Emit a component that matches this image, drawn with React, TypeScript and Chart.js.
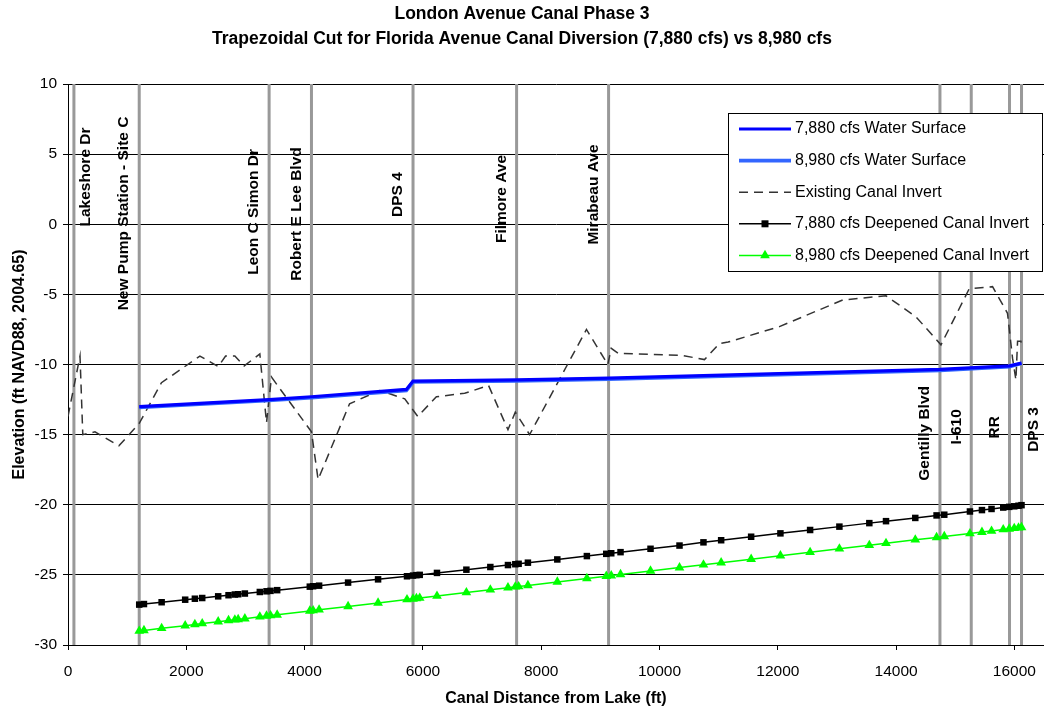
import React, { useEffect, useRef } from "react";
import { Chart, registerables } from "chart.js";

Chart.register(...registerables);

const FONT = '"Liberation Sans", Arial, sans-serif';

const TITLE_LINES = [
  "London Avenue Canal Phase 3",
  "Trapezoidal Cut for Florida Avenue Canal Diversion (7,880 cfs) vs 8,980 cfs",
];
const X_TITLE = "Canal Distance from Lake (ft)";
const Y_TITLE = "Elevation (ft NAVD88, 2004.65)";
const X_TICKS = [0, 2000, 4000, 6000, 8000, 10000, 12000, 14000, 16000];
const Y_TICKS = [-30, -25, -20, -15, -10, -5, 0, 5, 10];

// Landmarks (vertical reference lines)
const landmarkNames = [
  "Lakeshore Dr",
  "New Pump Station - Site C",
  "Leon C Simon Dr",
  "Robert E Lee Blvd",
  "DPS 4",
  "Filmore Ave",
  "Mirabeau Ave",
  "Gentilly Blvd",
  "I-610",
  "RR",
  "DPS 3",
];
const landmarkX = [100, 1204, 3400, 4116, 5833, 7584, 9139, 14741, 15270, 15917, 16120];
const landmarkLabelY = [3.37, 0.77, 0.88, 0.73, 2.12, 1.8, 2.12, -14.91, -14.45, -14.48, -14.63];
const landmarkLabelSide = [1, -1, -1, -1, -1, -1, -1, -1, -1, -1, 1];

// Water surfaces
const wsX = [1204, 3400, 4116, 5720, 5833, 7584, 9139, 14741, 15917, 16120];
const ws7880 = [-13.0, -12.5, -12.3, -11.78, -11.18, -11.1, -10.97, -10.35, -10.1, -9.9];
const ws8980 = [-13.07, -12.57, -12.37, -11.85, -11.25, -11.17, -11.04, -10.42, -10.16, -9.92];

// Existing canal invert
const existingX = [
  0, 203, 250, 456, 860, 1204, 1580, 2230, 2539, 2664, 2821, 2978, 3243, 3356, 3440, 4116,
  4228, 4760, 5270, 5693, 5912, 6228, 6706, 7110, 7438, 7562, 7804, 8765, 9125, 9184, 9300,
  10380, 10760, 11013, 11160, 12027, 13097, 13829, 14336, 14758, 15236, 15630, 15883, 15968,
  16025, 16053, 16110, 16120,
];
const existingY = [
  -13.7, -9.4, -15.0, -14.8, -15.8, -14.2, -11.3, -9.4, -10.15, -9.4, -9.4, -10.1, -9.25,
  -14.15, -10.9, -14.8, -18.2, -12.8, -11.85, -12.45, -13.7, -12.3, -12.05, -11.5, -14.65,
  -13.4, -15.0, -7.5, -10.0, -8.85, -9.2, -9.35, -9.65, -8.5, -8.4, -7.3, -5.4, -5.1, -6.6,
  -8.6, -4.6, -4.45, -6.35, -9.55, -11.1, -8.35, -8.35, -8.6,
];

// Deepened canal inverts
const deepX = [
  1204, 1284, 1583, 1981, 2145, 2269, 2539, 2714, 2821, 2877, 2990, 3243, 3356, 3424, 3536,
  4088, 4144, 4245, 4735, 5242, 5731, 5833, 5890, 5946, 6238, 6735, 7140, 7438, 7562, 7618,
  7775, 8272, 8772, 9100, 9184, 9341, 9848, 10338, 10743, 11042, 11549, 12044, 12546, 13041,
  13547, 13829, 14324, 14684, 14814, 15248, 15451, 15613, 15811, 15912, 15997, 16069, 16120,
];
const deep7880 = [
  -27.12, -27.08, -26.95, -26.77, -26.7, -26.65, -26.53, -26.45, -26.4, -26.38, -26.33,
  -26.22, -26.17, -26.14, -26.09, -25.84, -25.81, -25.77, -25.55, -25.32, -25.1, -25.05,
  -25.02, -25.0, -24.86, -24.63, -24.44, -24.3, -24.24, -24.21, -24.13, -23.9, -23.66, -23.5,
  -23.46, -23.38, -23.14, -22.91, -22.68, -22.53, -22.28, -22.04, -21.8, -21.56, -21.31,
  -21.17, -20.94, -20.76, -20.71, -20.48, -20.38, -20.3, -20.2, -20.15, -20.11, -20.07, -20.03,
];
const deep8980 = [
  -29.0, -28.96, -28.81, -28.62, -28.53, -28.47, -28.34, -28.25, -28.2, -28.17, -28.12,
  -27.99, -27.93, -27.9, -27.85, -27.57, -27.54, -27.49, -27.25, -27.0, -26.76, -26.71,
  -26.68, -26.65, -26.51, -26.26, -26.06, -25.91, -25.85, -25.83, -25.75, -25.5, -25.25,
  -25.09, -25.05, -24.97, -24.72, -24.48, -24.28, -24.13, -23.88, -23.63, -23.39, -23.14,
  -22.89, -22.75, -22.5, -22.33, -22.26, -22.05, -21.95, -21.87, -21.77, -21.72, -21.68,
  -21.64, -21.61,
];

const zip = (xs: number[], ys: number[]) => xs.map((x, i) => ({ x, y: ys[i] }));

const landmarkLinePoints = () => {
  const pts: { x: number; y: number | null }[] = [];
  landmarkX.forEach((x) => {
    pts.push({ x, y: Y_TICKS[0] });
    pts.push({ x, y: Y_TICKS[Y_TICKS.length - 1] });
    pts.push({ x, y: null });
  });
  return pts;
};

const LEGEND_ORDER = [0, 1, 2, 3, 4];

const landmarkLabelPlugin = {
  id: "landmarkLabels",
  afterDatasetsDraw(chart: any) {
    const { ctx } = chart;
    const xs = chart.scales.x;
    const ys = chart.scales.y;
    ctx.save();
    ctx.font = `bold 15.5px ${FONT}`;
    ctx.fillStyle = "#000";
    ctx.textAlign = "center";
    ctx.textBaseline = "middle";
    landmarkNames.forEach((name, i) => {
      const side = landmarkLabelSide[i];
      const px = xs.getPixelForValue(landmarkX[i]) + side * (side > 0 ? 12 : 15);
      const py = ys.getPixelForValue(landmarkLabelY[i]);
      ctx.save();
      ctx.translate(px, py);
      ctx.rotate(-Math.PI / 2);
      ctx.fillText(name, 0, 0);
      ctx.restore();
    });
    ctx.restore();
  },
};

const customLegendPlugin = {
  id: "customLegend",
  afterDraw(chart: any) {
    const { ctx, chartArea } = chart;
    const right = chartArea.right - 2;
    const left = right - 314;
    const top = chartArea.top + 29;
    const bottom = top + 158;
    ctx.save();
    ctx.fillStyle = "#fff";
    ctx.fillRect(left, top, right - left, bottom - top);
    ctx.strokeStyle = "#000";
    ctx.lineWidth = 1;
    ctx.setLineDash([]);
    ctx.strokeRect(Math.round(left) + 0.5, Math.round(top) + 0.5, right - left, bottom - top);
    ctx.font = `16px ${FONT}`;
    ctx.textAlign = "left";
    ctx.textBaseline = "middle";
    LEGEND_ORDER.forEach((di, row) => {
      const ds = chart.data.datasets[di];
      const y = top + 16 + row * 31.6;
      const x0 = left + 11;
      const x1 = left + 63;
      ctx.save();
      ctx.strokeStyle = ds.borderColor;
      ctx.lineWidth = ds.borderWidth;
      ctx.setLineDash(ds.borderDash || []);
      ctx.beginPath();
      ctx.moveTo(x0, y);
      ctx.lineTo(x1, y);
      ctx.stroke();
      ctx.setLineDash([]);
      const cx = (x0 + x1) / 2;
      if (ds.pointStyle === "rect" && ds.pointRadius > 0) {
        ctx.fillStyle = ds.pointBackgroundColor;
        ctx.fillRect(cx - 3.5, y - 3.5, 7, 7);
      } else if (ds.pointStyle === "triangle" && ds.pointRadius > 0) {
        ctx.fillStyle = ds.pointBackgroundColor;
        const r = ds.pointRadius;
        ctx.beginPath();
        ctx.moveTo(cx, y - r);
        ctx.lineTo(cx + r * 0.866, y + r * 0.5);
        ctx.lineTo(cx - r * 0.866, y + r * 0.5);
        ctx.closePath();
        ctx.fill();
      }
      ctx.restore();
      ctx.fillStyle = "#000";
      ctx.fillText(ds.label, x1 + 4, y);
    });
    ctx.restore();
  },
};

export default function App() {
  const canvasRef = useRef<HTMLCanvasElement | null>(null);

  useEffect(() => {
    if (!canvasRef.current) return;
    const chart = new Chart(canvasRef.current, {
      type: "line",
      data: {
        datasets: [
          {
            label: "7,880 cfs Water Surface",
            data: zip(wsX, ws7880),
            borderColor: "#0000FF",
            backgroundColor: "#0000FF",
            borderWidth: 3.2,
            pointRadius: 0,
            order: 0,
          },
          {
            label: "8,980 cfs Water Surface",
            data: zip(wsX, ws8980),
            borderColor: "#3366FF",
            backgroundColor: "#3366FF",
            borderWidth: 3.6,
            pointRadius: 0,
            order: 1,
          },
          {
            label: "Existing Canal Invert",
            data: zip(existingX, existingY),
            borderColor: "#333333",
            backgroundColor: "#333333",
            borderWidth: 1.5,
            borderDash: [9, 6],
            pointRadius: 0,
            order: 2,
          },
          {
            label: "7,880 cfs Deepened Canal Invert",
            data: zip(deepX, deep7880),
            borderColor: "#000000",
            backgroundColor: "#000000",
            borderWidth: 1.5,
            pointStyle: "rect",
            pointRadius: 4.6,
            pointBackgroundColor: "#000000",
            pointBorderColor: "#000000",
            pointBorderWidth: 0,
            order: 3,
          },
          {
            label: "8,980 cfs Deepened Canal Invert",
            data: zip(deepX, deep8980),
            borderColor: "#00FF00",
            backgroundColor: "#00FF00",
            borderWidth: 1.5,
            pointStyle: "triangle",
            pointRadius: 5.6,
            pointBackgroundColor: "#00FF00",
            pointBorderColor: "#00FF00",
            pointBorderWidth: 0,
            order: 4,
          },
          {
            label: "Landmarks",
            data: landmarkLinePoints(),
            borderColor: "#999999",
            borderWidth: 3,
            pointRadius: 0,
            spanGaps: false,
            order: 5,
          },
        ] as any,
      },
      options: {
        animation: false,
        responsive: false,
        maintainAspectRatio: false,
        events: [],
        layout: { padding: 0, autoPadding: false },
        plugins: {
          legend: { display: false },
          tooltip: { enabled: false },
          title: {
            display: true,
            text: TITLE_LINES,
            color: "#000",
            font: { family: FONT, size: 17.5, weight: "bold", lineHeight: 1.4 },
            padding: { top: 2, bottom: 33 },
          },
        },
        scales: {
          x: {
            type: "linear",
            min: 0,
            max: 16500,
            afterBuildTicks: (s: any) => {
              s.ticks = X_TICKS.map((v) => ({ value: v }));
            },
            afterFit: (s: any) => {
              s.height = 65;
              s.paddingLeft = 0;
              s.paddingRight = 0;
            },
            ticks: {
              callback: (v: any) => String(v),
              color: "#000",
              font: { family: FONT, size: 15.5 },
              padding: 12,
              maxRotation: 0,
              autoSkip: false,
            },
            grid: { drawOnChartArea: false, drawTicks: true, tickLength: 5, color: "#000" },
            border: { color: "#000", width: 1 },
            title: {
              display: true,
              text: X_TITLE,
              color: "#000",
              font: { family: FONT, size: 16, weight: "bold", lineHeight: 1.2 },
              padding: { top: 0, bottom: 2 },
            },
          },
          y: {
            type: "linear",
            min: -30,
            max: 10,
            afterBuildTicks: (s: any) => {
              s.ticks = Y_TICKS.map((v) => ({ value: v }));
            },
            afterFit: (s: any) => {
              s.width = 68;
            },
            ticks: {
              callback: (v: any) => String(v),
              color: "#000",
              font: { family: FONT, size: 15.5 },
              padding: 6,
              autoSkip: false,
            },
            grid: { color: "#000", lineWidth: 1, drawTicks: true, tickLength: 5 },
            border: { color: "#000", width: 1 },
            title: {
              display: true,
              text: Y_TITLE,
              color: "#000",
              font: { family: FONT, size: 16, weight: "bold", lineHeight: 1.2 },
              padding: { top: 9.5, bottom: 0 },
            },
          },
        },
      } as any,
      plugins: [landmarkLabelPlugin, customLegendPlugin],
    });
    return () => chart.destroy();
  }, []);

  return (
    <div style={{ position: "fixed", left: 0, top: 0, width: 1044, height: 710, background: "#fff" }}>
      <canvas ref={canvasRef} width={1044} height={710} style={{ display: "block" }} />
    </div>
  );
}
